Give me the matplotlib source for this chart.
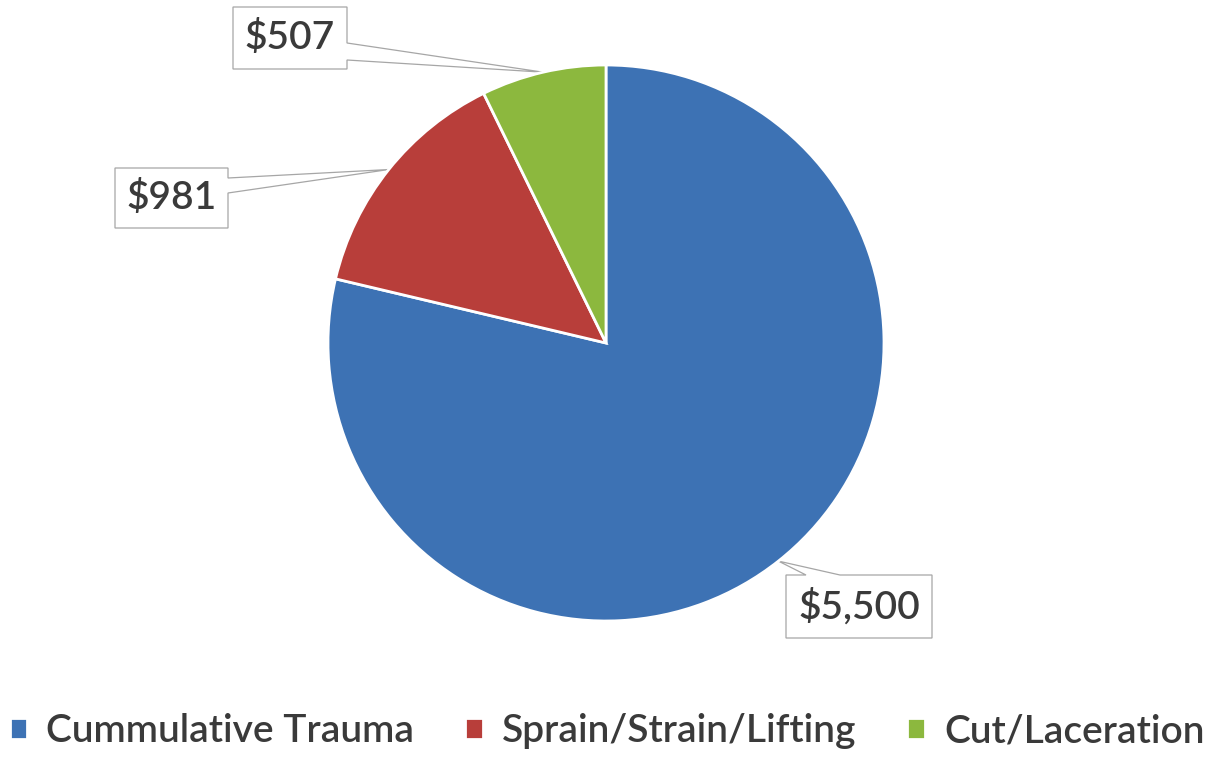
import matplotlib.pyplot as plt
from matplotlib.patches import Polygon
import numpy as np

categories = ['Cummulative Trauma', 'Sprain/Strain/Lifting', 'Cut/Laceration']
costs = [5500, 981, 507]
cost_labels = ['$5,500', '$981', '$507']
colors = ['#3d72b4', '#b83e3a', '#8cb83e']

plt.rcParams['font.family'] = ['Lato', 'DejaVu Sans']
plt.rcParams['font.weight'] = 'semibold'
text_color = '#3a3a3a'

W, H = 1220, 760
fig = plt.figure(figsize=(W / 100, H / 100), dpi=100)

# pie centre and radius in pixels, measured from the top-left corner
cx, cy, R = 606, 343, 278
ax = fig.add_axes([(cx - R) / W, (H - cy - R) / H, 2 * R / W, 2 * R / H])
wedges, _ = ax.pie(costs, colors=colors, startangle=90, counterclock=False,
                   wedgeprops=dict(edgecolor='white', linewidth=2))
ax.set_xlim(-1, 1)
ax.set_ylim(-1, 1)
ax.patch.set_visible(False)


def to_fig(x, y):
    return (x / W, 1 - y / H)


# callout boxes: (left, top, right, bottom), side of the pointer, pointer base
boxes = [
    ((786, 575, 932, 638), 'top', (806, 840)),
    ((115, 168, 228, 228), 'right', (178, 193)),
    ((233, 7, 347, 69), 'right', (43, 60)),
]

for w, lab, (box, side, base) in zip(wedges, cost_labels, boxes):
    mid = np.deg2rad((w.theta1 + w.theta2) / 2)
    tip = (cx + R * np.cos(mid), cy - R * np.sin(mid))
    x0, y0, x1, y1 = box
    if side == 'top':
        pts = [(x0, y0), (base[0], y0), tip, (base[1], y0), (x1, y0), (x1, y1), (x0, y1)]
    else:
        pts = [(x0, y0), (x1, y0), (x1, base[0]), tip, (x1, base[1]), (x1, y1), (x0, y1)]
    poly = Polygon([to_fig(*p) for p in pts], closed=True, transform=fig.transFigure,
                   facecolor='white', edgecolor='#a6a6a6', linewidth=0.9, zorder=-1)
    fig.add_artist(poly)
    fx, fy = to_fig((x0 + x1) / 2, (y0 + y1) / 2)
    fig.text(fx, fy, lab, ha='center', va='center', fontsize=28, color=text_color)

fig.legend(wedges, categories, loc='center', bbox_to_anchor=to_fig(607, 731), ncol=3,
           frameon=False, fontsize=28, handlelength=0.45, handleheight=0.45,
           handletextpad=0.5, columnspacing=1.3, labelcolor=text_color)

fig.savefig('out.png', dpi=100, facecolor='white')
